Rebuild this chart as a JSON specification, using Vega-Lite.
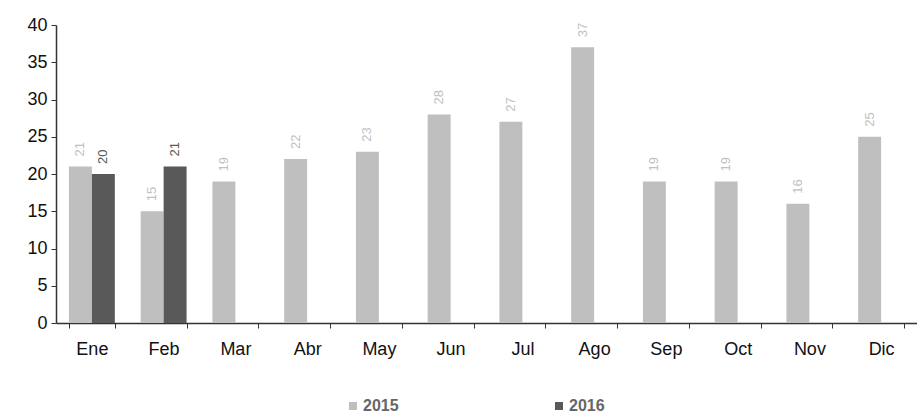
{
  "$schema": "https://vega.github.io/schema/vega-lite/v6.json",
  "width": 861,
  "height": 298,
  "autosize": {"type": "none"},
  "padding": {"left": 56, "top": 25, "right": 0, "bottom": 96},
  "background": "white",
  "config": {
    "view": {"stroke": null},
    "font": "Liberation Sans",
    "axis": {"labelFont": "Liberation Sans", "grid": false}
  },
  "data": {
    "values": [
      {"month": "Ene", "year": "2015", "value": 21},
      {"month": "Ene", "year": "2016", "value": 20},
      {"month": "Feb", "year": "2015", "value": 15},
      {"month": "Feb", "year": "2016", "value": 21},
      {"month": "Mar", "year": "2015", "value": 19},
      {"month": "Abr", "year": "2015", "value": 22},
      {"month": "May", "year": "2015", "value": 23},
      {"month": "Jun", "year": "2015", "value": 28},
      {"month": "Jul", "year": "2015", "value": 27},
      {"month": "Ago", "year": "2015", "value": 37},
      {"month": "Sep", "year": "2015", "value": 19},
      {"month": "Oct", "year": "2015", "value": 19},
      {"month": "Nov", "year": "2015", "value": 16},
      {"month": "Dic", "year": "2015", "value": 25}
    ]
  },
  "encoding": {
    "x": {
      "field": "month",
      "type": "nominal",
      "sort": ["Ene","Feb","Mar","Abr","May","Jun","Jul","Ago","Sep","Oct","Nov","Dic"],
      "scale": {"paddingInner": 0.36, "paddingOuter": 0.18},
      "axis": {
        "title": null,
        "labelAngle": 0,
        "labelFontSize": 18,
        "labelColor": "#111",
        "labelPadding": 12,
        "domainColor": "#333",
        "domainWidth": 1.5,
        "tickColor": "#333",
        "tickSize": 5,
        "tickBand": "extent"
      }
    },
    "xOffset": {"field": "year", "type": "nominal", "scale": {"domain": ["2015", "2016"]}},
    "y": {
      "field": "value",
      "type": "quantitative",
      "scale": {"domain": [0, 40]},
      "axis": {
        "title": null,
        "values": [0,5,10,15,20,25,30,35,40],
        "labelFontSize": 18,
        "labelColor": "#111",
        "labelPadding": 4,
        "domainColor": "#333",
        "domainWidth": 1.5,
        "tickColor": "#333",
        "tickSize": 5
      }
    }
  },
  "layer": [
    {
      "mark": {"type": "bar"},
      "encoding": {
        "color": {
          "field": "year",
          "type": "nominal",
          "scale": {"domain": ["2015", "2016"], "range": ["#bfbfbf", "#595959"]},
          "legend": {
            "title": null,
            "orient": "none",
            "direction": "horizontal",
            "legendX": 289,
            "legendY": 373,
            "symbolType": "square",
            "symbolSize": 64,
            "symbolStrokeWidth": 0,
            "labelFontSize": 16,
            "labelFontWeight": "bold",
            "labelColor": "#666",
            "labelOffset": 2,
            "columnPadding": 152
          }
        }
      }
    },
    {
      "mark": {"type": "text", "angle": 270, "align": "left", "baseline": "middle", "dx": 10, "fontSize": 13},
      "encoding": {
        "text": {"field": "value", "type": "quantitative"},
        "color": {
          "field": "year",
          "type": "nominal",
          "scale": {"domain": ["2015", "2016"], "range": ["#bfbfbf", "#404040"]},
          "legend": null
        },
        "fontWeight": {
          "condition": {"test": "datum.year == '2016'", "value": "bold"},
          "value": "normal"
        }
      }
    }
  ]
}
